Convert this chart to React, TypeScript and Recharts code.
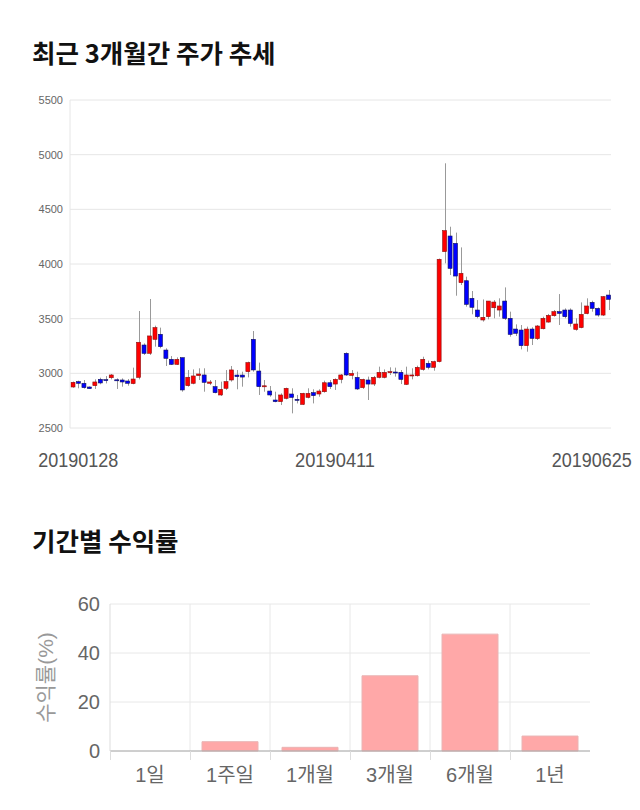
import { ComposedChart, BarChart, Bar, XAxis, YAxis, CartesianGrid, Label } from 'recharts';

// 최근 3개월 일봉 (시가 / 고가 / 저가 / 종가)
const opens = [
  2875, 2924, 2909, 2875, 2887, 2945, 2942, 2960, 2941, 2939, 2930, 2906, 2963, 3259, 3183, 3311, 3357, 3213, 3128, 3082,
  3143, 2887, 2909, 2979, 2985, 2909, 2878, 2802, 2863, 2939, 2984, 2984, 3015, 3311, 3021, 2880, 2838, 2756, 2741, 2771,
  2811, 2762, 2716, 2780, 2823, 2811, 2832, 2914, 2902, 2945, 3183, 2981, 2963, 2869, 2939, 2902, 2963, 2963, 3006, 3012,
  3009, 2899, 2983, 2978, 3036, 3091, 3055, 3107, 4113, 4256, 4189, 3829, 3847, 3686, 3579, 3488, 3518, 3600, 3579, 3661,
  3503, 3405, 3396, 3253, 3405, 3317, 3408, 3469, 3527, 3564, 3579, 3579, 3402, 3418, 3546, 3649, 3594, 3533, 3716,
];
const highs = [
  2925, 2933, 2939, 2880, 2945, 2960, 2975, 2994, 2954, 2954, 2948, 3052, 3570, 3274, 3680, 3436, 3418, 3229, 3158, 3146,
  3143, 3030, 3036, 3046, 3046, 2939, 2939, 2924, 3030, 3067, 3030, 3015, 3107, 3387, 3098, 2939, 2884, 2832, 2817, 2869,
  2863, 2802, 2822, 2863, 2854, 2854, 2933, 2939, 2954, 2994, 3192, 3030, 3015, 2951, 2970, 2976, 3061, 3036, 3055, 3052,
  3030, 3061, 3046, 3070, 3152, 3116, 3116, 4050, 4921, 4341, 4287, 4152, 3884, 3753, 3670, 3676, 3661, 3670, 3686, 3786,
  3564, 3448, 3442, 3427, 3421, 3442, 3518, 3543, 3579, 3725, 3594, 3594, 3503, 3649, 3686, 3664, 3603, 3707, 3762,
];
const lows = [
  2868, 2863, 2860, 2857, 2857, 2900, 2908, 2945, 2857, 2878, 2887, 2900, 2945, 3168, 3168, 3244, 3229, 3067, 3076, 3076,
  2832, 2878, 2900, 2939, 2832, 2893, 2817, 2793, 2848, 2924, 2854, 2878, 2963, 3015, 2802, 2832, 2786, 2735, 2710, 2762,
  2634, 2725, 2710, 2771, 2725, 2786, 2823, 2857, 2848, 2909, 2976, 2945, 2848, 2857, 2756, 2884, 2954, 2954, 2985, 2970,
  2902, 2893, 2945, 2970, 3024, 3036, 3024, 3100, 4006, 3899, 3710, 3808, 3610, 3540, 3503, 3473, 3494, 3503, 3518, 3488,
  3335, 3341, 3219, 3198, 3259, 3305, 3402, 3463, 3518, 3442, 3503, 3427, 3390, 3412, 3540, 3564, 3518, 3524, 3579,
];
const closes = [
  2918, 2909, 2869, 2860, 2921, 2912, 2939, 2985, 2939, 2921, 2909, 2948, 3284, 3183, 3342, 3418, 3244, 3137, 3082, 3128,
  2848, 2964, 2976, 2994, 2918, 2921, 2823, 2854, 2924, 3031, 2970, 2966, 3098, 3031, 2878, 2886, 2802, 2741, 2802, 2863,
  2780, 2756, 2817, 2817, 2796, 2838, 2914, 2878, 2945, 2985, 2985, 2999, 2857, 2945, 2902, 2963, 3009, 3009, 3015, 3003,
  2945, 2985, 2985, 3055, 3128, 3055, 3107, 4043, 4305, 3960, 3890, 3915, 3631, 3604, 3518, 3512, 3661, 3652, 3616, 3503,
  3356, 3366, 3253, 3405, 3320, 3433, 3503, 3530, 3564, 3549, 3518, 3457, 3451, 3539, 3616, 3594, 3533, 3701, 3677,
];

const priceTicks = [2500, 3000, 3500, 4000, 4500, 5000, 5500];
const dateTickIndex = [1, 48, 95];
const dateTickLabels = ['20190128', '20190411', '20190625'];

// 기간별 수익률
const periods = ['1일', '1주일', '1개월', '3개월', '6개월', '1년'];
const returns = [0, 3.8, 1.5, 30.7, 47.7, 6.1];
const returnTicks = [0, 20, 40, 60];

const candles = opens.map((o, i) => ({
  i,
  open: o,
  high: highs[i],
  low: lows[i],
  close: closes[i],
}));

const returnData = periods.map((p, i) => ({ period: p, value: returns[i] }));

const Candle = (props: any) => {
  const { x, y, width, height, payload } = props;
  const { open, close, high, low } = payload;
  const top = Math.min(y, y + height);
  const h = Math.abs(height);
  const k = h / Math.max(high - low, 1);
  const cx = Math.round(x + width / 2) + 0.5;
  const bodyTop = top + (high - Math.max(open, close)) * k;
  const bodyBot = top + (high - Math.min(open, close)) * k;
  const up = close >= open;
  return (
    <g>
      <line x1={cx} x2={cx} y1={top} y2={top + h} stroke="#999" strokeWidth={1} />
      <rect
        x={x}
        y={bodyTop}
        width={width}
        height={Math.max(bodyBot - bodyTop, 1)}
        fill={up ? '#ff0000' : '#0000ff'}
        stroke={up ? '#8a1010' : '#10105a'}
        strokeWidth={0.6}
      />
    </g>
  );
};

const DateTick = (props: any) => {
  const { x, y, payload } = props;
  const idx = dateTickIndex.indexOf(payload.value);
  if (idx < 0) return null;
  return (
    <text x={x} y={y + 32} textAnchor="middle" dominantBaseline="central" fill="#555"
      textLength={80} lengthAdjust="spacingAndGlyphs"
      style={{ fontFamily: '"Liberation Sans", sans-serif', fontSize: 20 }}>
      {dateTickLabels[idx]}
    </text>
  );
};

const PeriodTick = (props: any) => {
  const { x, y, payload, width, visibleTicksCount } = props;
  const bw = width / visibleTicksCount;
  const lx = Math.round(x - bw / 2) + 0.5;
  return (
    <g>
      <line x1={lx} x2={lx} y1={y} y2={y + 9} stroke="#ddd" />
      <text x={x} y={y + 24} textAnchor="middle" dominantBaseline="central" fill="#666"
        style={{ fontFamily: '"Liberation Sans", "Noto Sans CJK KR", sans-serif', fontSize: 20 }}>
        {payload.value}
      </text>
    </g>
  );
};

const titleStyle: any = {
  position: 'absolute',
  left: 32,
  fontFamily: '"Noto Sans CJK KR", sans-serif',
  fontWeight: 700,
  fontSize: 25.5,
  lineHeight: '26px',
  color: '#111',
  whiteSpace: 'nowrap',
};

export default function App() {
  return (
    <div style={{ position: 'absolute', left: 0, top: 0, width: 640, height: 810, background: '#fff' }}>
      <div style={{ ...titleStyle, top: 39 }}>최근 3개월간 주가 추세</div>
      <div style={{ position: 'absolute', left: 0, top: 0 }}>
        <ComposedChart width={640} height={480} data={candles} margin={{ top: 100, right: 29, bottom: 0, left: 0 }}>
          <CartesianGrid vertical={false} stroke="#e6e6e6" />
          <XAxis
            dataKey="i"
            ticks={dateTickIndex}
            interval={0}
            height={52}
            axisLine={false}
            tickLine={false}
            tickSize={0}
            tickMargin={0}
            tick={<DateTick />}
          />
          <YAxis
            domain={[2500, 5500]}
            ticks={priceTicks}
            width={70}
            axisLine={{ stroke: '#e6e6e6' }}
            tickLine={false}
            tickSize={0}
            tickMargin={7}
            tick={{ fill: '#666', fontSize: 11, fontFamily: '"Liberation Sans", sans-serif' }}
          />
          <Bar dataKey={(d: any) => [d.low, d.high]} barSize={4} shape={<Candle />} isAnimationActive={false} />
        </ComposedChart>
      </div>

      <div style={{ ...titleStyle, top: 527 }}>기간별 수익률</div>
      <div style={{ position: 'absolute', left: 0, top: 580 }}>
        <BarChart width={640} height={230} data={returnData} margin={{ top: 24, right: 50, bottom: 0, left: 0 }}
          barCategoryGap="15%">
          <CartesianGrid
            stroke="#e8e8e8"
            verticalCoordinatesGenerator={({ offset }: any) =>
              [1, 2, 3, 4, 5].map((k) => offset.left + (k * offset.width) / periods.length)
            }
          />
          <XAxis
            dataKey="period"
            height={59}
            axisLine={{ stroke: '#aaa' }}
            tickLine={false}
            tickSize={0}
            tickMargin={0}
            interval={0}
            tick={<PeriodTick />}
          />
          <YAxis
            domain={[0, 60]}
            ticks={returnTicks}
            width={110}
            axisLine={{ stroke: '#ddd' }}
            tickLine={false}
            tickSize={0}
            tickMargin={10}
            tick={{ fill: '#666', fontSize: 20, fontFamily: '"Liberation Sans", sans-serif' }}
          >
            <Label
              content={({ viewBox }: any) => {
                const cx = viewBox.x + 45;
                const cy = viewBox.y + viewBox.height / 2;
                return (
                  <text x={cx} y={cy} transform={`rotate(-90 ${cx} ${cy})`} textAnchor="middle"
                    dominantBaseline="central" fill="#999"
                    style={{ fontFamily: '"Liberation Sans", "Noto Sans CJK KR", sans-serif', fontSize: 21 }}>
                    수익률(%)
                  </text>
                );
              }}
            />
          </YAxis>
          <Bar dataKey="value" fill="#ffa8a8" stroke="#e9b4b4" strokeWidth={1} isAnimationActive={false} />
        </BarChart>
      </div>
    </div>
  );
}
